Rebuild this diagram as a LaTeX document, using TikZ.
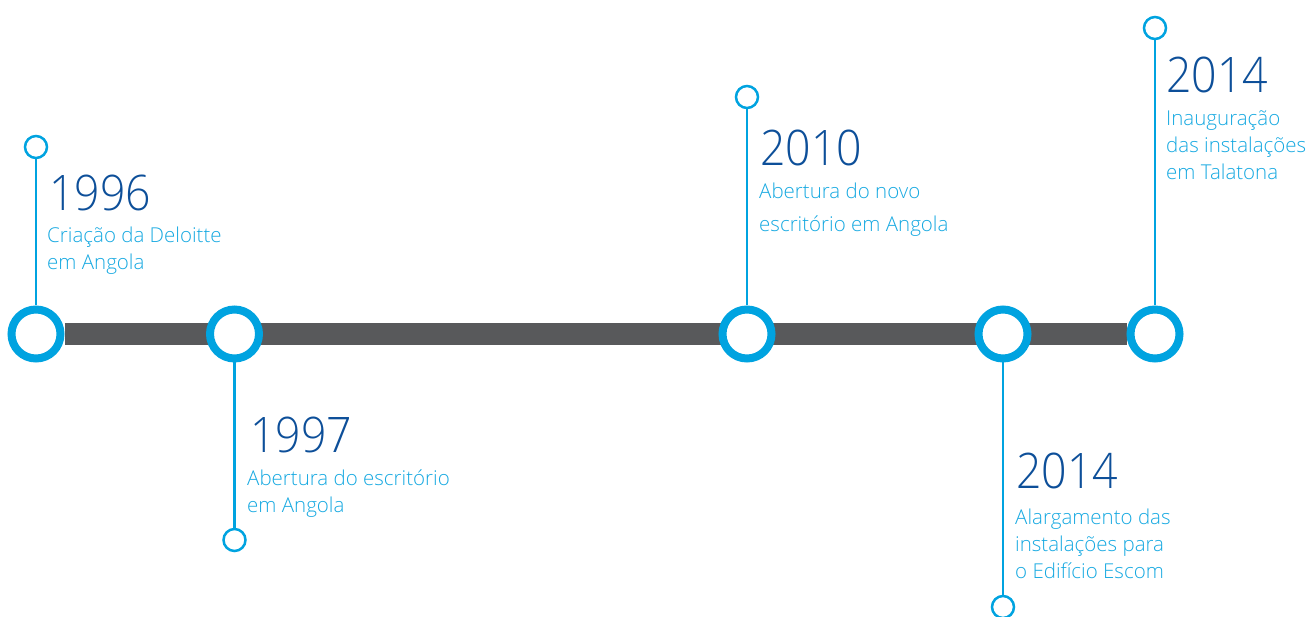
\documentclass[tikz,border=0pt]{standalone}
\usepackage{fontspec}
\IfFontExistsTF{Open Sans Light}{\setmainfont{Open Sans Light}\newfontfamily\yrfont{Open Sans Light}[FakeStretch=0.91]}{\IfFontExistsTF{Fira Sans Light}{\setmainfont{Fira Sans Light}\newfontfamily\yrfont{Fira Sans Light}[FakeStretch=0.91]}{\setmainfont{Fira Sans}\newfontfamily\yrfont{Fira Sans}[FakeStretch=0.91]}}
\usetikzlibrary{backgrounds}
\definecolor{dblue}{HTML}{0D4F99}
\definecolor{lblue}{HTML}{00A3E0}
\definecolor{tblue}{HTML}{17A9E1}
\definecolor{bargray}{HTML}{58595B}
\tikzset{
  bigdot/.style={circle, draw=lblue, fill=white, line width=8pt, minimum size=49pt, inner sep=0pt},
  smalldot/.style={circle, draw=lblue, fill=white, line width=2.5pt, minimum size=22pt, inner sep=0pt},
  stem/.style={draw=lblue, line width=2.5pt},
  bar/.style={draw=bargray, line width=22pt},
  yr/.style={anchor=base west, inner sep=0pt, text=dblue, font=\yrfont\fontsize{49}{49}\selectfont},
  desc/.style={anchor=base west, inner sep=0pt, text=tblue, align=left, font=\fontsize{20.5}{27}\selectfont},
}
\begin{document}
\begin{tikzpicture}[x=1pt,y=-1pt]
\useasboundingbox (0,0) rectangle (1306,617);
% big dots on the bar
\node[bigdot] (b1) at (36,334) {};
\node[bigdot] (b2) at (234.5,334) {};
\node[bigdot] (b3) at (747,334) {};
\node[bigdot] (b4) at (1003,334) {};
\node[bigdot] (b5) at (1155,334) {};
% small dots
\node[smalldot] (s1) at (36,147) {};
\node[smalldot] (s2) at (234.5,540) {};
\node[smalldot] (s3) at (747,97) {};
\node[smalldot] (s4) at (1003,607) {};
\node[smalldot] (s5) at (1155,28) {};
\begin{pgfonlayer}{background}
\draw[bar] (b1) -- (b5);
\draw[stem] (s1) -- (b1);
\draw[stem] (s2) -- (b2);
\draw[stem] (s3) -- (b3);
\draw[stem] (s4) -- (b4);
\draw[stem] (s5) -- (b5);
\end{pgfonlayer}
% texts (description anchors sit on the last line's baseline)
\node[yr] (y1) at (49,211) {1996};
\node[desc] (d1) at (47,270) {Criação da Deloitte\\em Angola};
\node[yr] (y2) at (250,452) {1997};
\node[desc] (d2) at (247,512) {Abertura do escritório\\em Angola};
\node[yr] (y3) at (760,166) {2010};
\node[desc, font=\fontsize{20.5}{33}\selectfont] (d3) at (759,232) {Abertura do novo\\escritório em Angola};
\node[yr] (y4) at (1016,488) {2014};
\node[desc] (d4) at (1015,578) {Alargamento das\\instalações para\\o Edifício Escom};
\node[yr] (y5) at (1166,93) {2014};
\node[desc] (d5) at (1166,180) {Inauguração\\das instalações\\em Talatona};
\end{tikzpicture}
\end{document}
